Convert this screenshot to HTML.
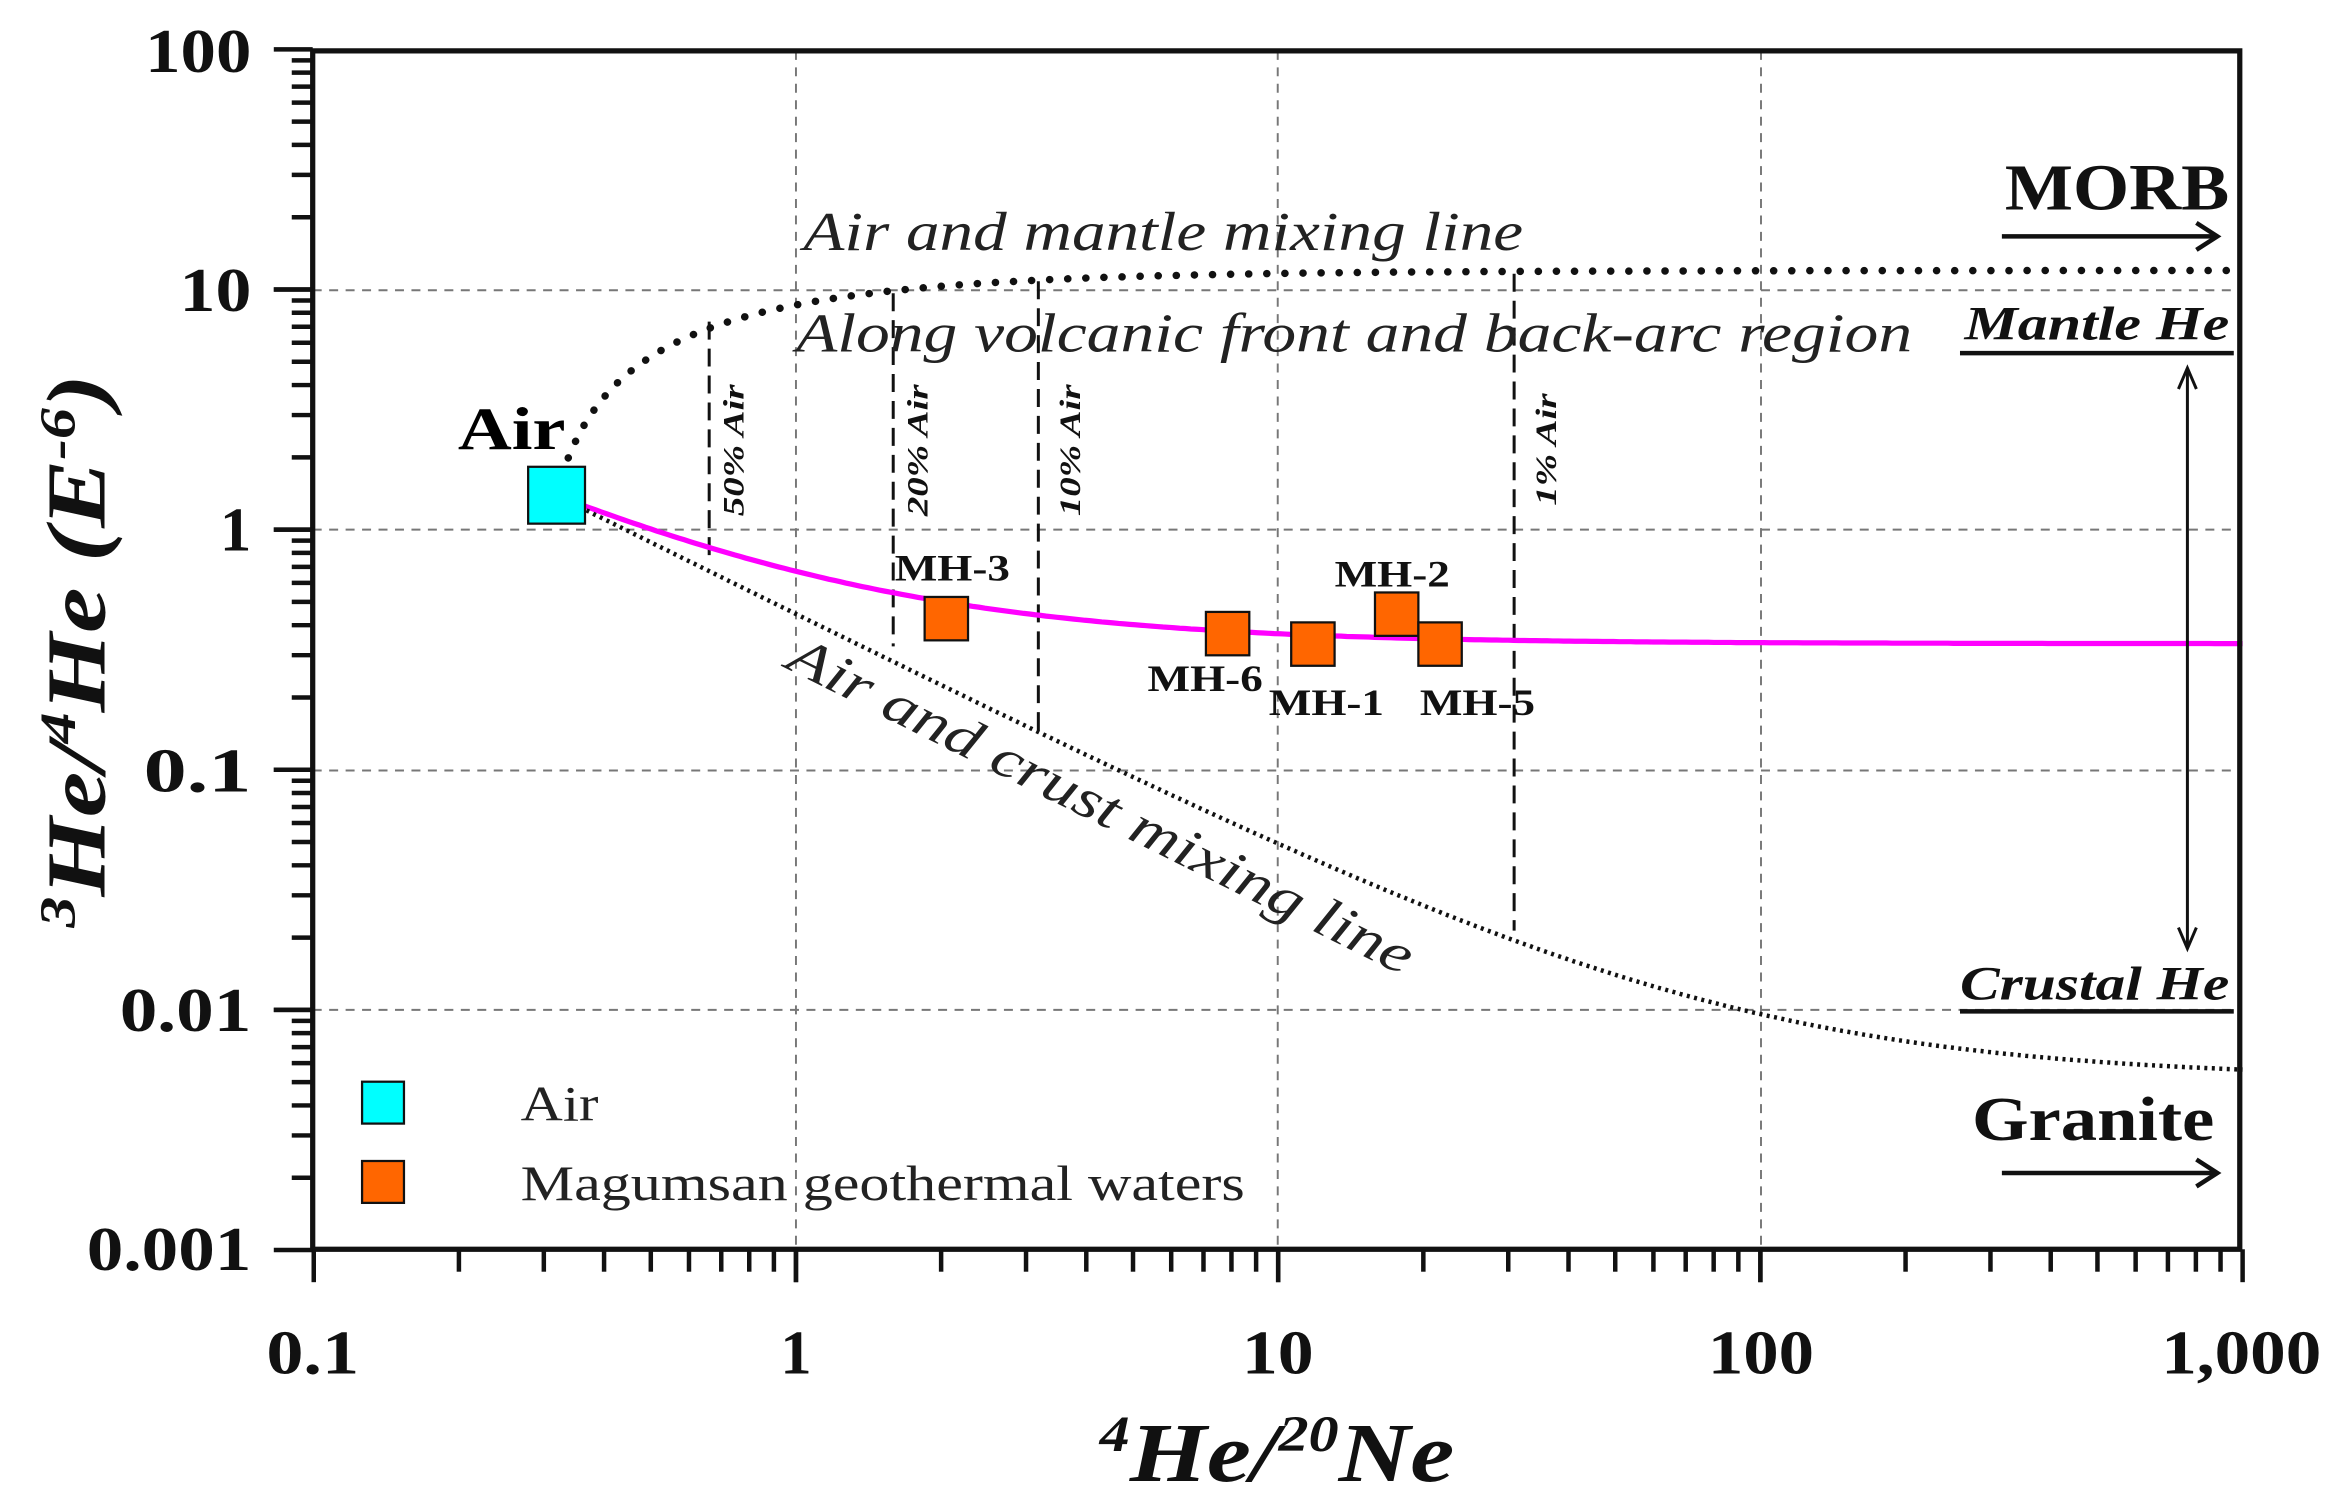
<!DOCTYPE html>
<html><head><meta charset="utf-8"><style>html,body{margin:0;padding:0;background:#fff}svg{display:block}</style></head>
<body>
<svg id="s" width="2346" height="1506" viewBox="0 0 1568 1006.6" preserveAspectRatio="none" xmlns="http://www.w3.org/2000/svg" font-family="'Liberation Serif', serif">
<g stroke="#777" stroke-width="1.3" stroke-dasharray="6,5" fill="none">
<line x1="209" y1="194" x2="1497" y2="194"/><line x1="209" y1="354" x2="1497" y2="354"/><line x1="209" y1="515" x2="1497" y2="515"/><line x1="209" y1="675" x2="1497" y2="675"/>
<line x1="532" y1="34" x2="532" y2="835"/><line x1="854" y1="34" x2="854" y2="835"/><line x1="1177" y1="34" x2="1177" y2="835"/>
</g>
<g stroke="#111" stroke-width="2" stroke-dasharray="12,6" fill="none">
<line x1="474" y1="215" x2="474" y2="372"/><line x1="597" y1="196" x2="597" y2="432"/><line x1="694" y1="188" x2="694" y2="492"/><line x1="1012" y1="183" x2="1012" y2="622"/>
</g>
<g font-style="italic" font-weight="bold" font-size="20" fill="#111">
<text transform="translate(497,345) rotate(-90)" textLength="88" lengthAdjust="spacingAndGlyphs">50% Air</text>
<text transform="translate(620,345) rotate(-90)" textLength="88" lengthAdjust="spacingAndGlyphs">20% Air</text>
<text transform="translate(722,345) rotate(-90)" textLength="88" lengthAdjust="spacingAndGlyphs">10% Air</text>
<text transform="translate(1040,338) rotate(-90)" textLength="75" lengthAdjust="spacingAndGlyphs">1% Air</text>
</g>
<path id="mag" fill="none" stroke="#ff00ff" stroke-width="3.5" d=""/>
<path id="crust" fill="none" stroke="#111" stroke-width="3" stroke-dasharray="2,3" d=""/>
<path id="mantle" fill="none" stroke="#111" stroke-width="5" stroke-linecap="round" stroke-dasharray="0.1,12" d=""/>
<rect x="353" y="312" width="38" height="38" fill="#00ffff" stroke="#111" stroke-width="1.5"/>
<g fill="#ff6600" stroke="#111" stroke-width="1.5">
<rect x="618" y="399" width="29" height="29"/><rect x="806" y="409" width="29" height="29"/><rect x="863" y="416" width="29" height="29"/><rect x="919" y="396" width="29" height="29"/><rect x="948" y="416" width="29" height="29"/>
<rect x="242" y="776" width="28" height="28"/>
</g>
<rect x="242" y="723" width="28" height="28" fill="#00ffff" stroke="#111" stroke-width="1.5"/>
<g font-weight="bold" font-size="25" fill="#111" lengthAdjust="spacingAndGlyphs">
<text x="598" y="388" textLength="77" lengthAdjust="spacingAndGlyphs">MH-3</text><text x="767" y="462" textLength="77" lengthAdjust="spacingAndGlyphs">MH-6</text><text x="848" y="478" textLength="77" lengthAdjust="spacingAndGlyphs">MH-1</text><text x="892" y="392" textLength="77" lengthAdjust="spacingAndGlyphs">MH-2</text><text x="949" y="478" textLength="77" lengthAdjust="spacingAndGlyphs">MH-5</text>
</g>
<text x="306" y="300" font-weight="bold" font-size="40" textLength="72" lengthAdjust="spacingAndGlyphs">Air</text>
<g font-style="italic" font-size="37" fill="#222">
<text x="537" y="167" textLength="481" lengthAdjust="spacingAndGlyphs">Air and mantle mixing line</text>
<text x="532" y="235" textLength="746" lengthAdjust="spacingAndGlyphs">Along volcanic front and back-arc region</text>
<text transform="translate(524,446) rotate(26.5)" textLength="462" lengthAdjust="spacingAndGlyphs">Air and crust mixing line</text>
</g>
<g font-size="33" fill="#222"><text x="348" y="749" textLength="52" lengthAdjust="spacingAndGlyphs">Air</text><text x="348" y="802" textLength="484" lengthAdjust="spacingAndGlyphs">Magumsan geothermal waters</text></g>
<g fill="#111">
<text x="1340" y="140" font-weight="bold" font-size="44" textLength="150" lengthAdjust="spacingAndGlyphs">MORB</text>
<text x="1313" y="227" font-weight="bold" font-style="italic" font-size="32" textLength="177" lengthAdjust="spacingAndGlyphs">Mantle He</text>
<text x="1310" y="668" font-weight="bold" font-style="italic" font-size="32" textLength="180" lengthAdjust="spacingAndGlyphs">Crustal He</text>
<text x="1318" y="762" font-weight="bold" font-size="42" textLength="162" lengthAdjust="spacingAndGlyphs">Granite</text>
</g>
<g stroke="#111" stroke-width="3" fill="none">
<line x1="1338" y1="158" x2="1480" y2="158"/><path d="M1468,149 L1482,158 L1468,167"/>
<line x1="1338" y1="784" x2="1480" y2="784"/><path d="M1468,775 L1482,784 L1468,793"/>
<line x1="1310" y1="236" x2="1493" y2="236"/><line x1="1310" y1="676" x2="1493" y2="676"/>
<line x1="1462" y1="248" x2="1462" y2="632" stroke-width="2"/><path d="M1456,260 L1462,246 L1468,260 M1456,620 L1462,634 L1468,620" stroke-width="2"/>
</g>
<rect x="209" y="34" width="1288" height="801" fill="none" stroke="#111" stroke-width="3.5"/>
<g id="ticks" stroke="#111" stroke-width="3"></g>
<g font-weight="bold" font-size="42" fill="#111" text-anchor="end">
<text x="168" y="48" textLength="71" lengthAdjust="spacingAndGlyphs">100</text><text x="168" y="208" textLength="48" lengthAdjust="spacingAndGlyphs">10</text><text x="168" y="368">1</text><text x="168" y="529" textLength="72" lengthAdjust="spacingAndGlyphs">0.1</text><text x="168" y="689" textLength="88" lengthAdjust="spacingAndGlyphs">0.01</text><text x="168" y="849" textLength="110" lengthAdjust="spacingAndGlyphs">0.001</text>
</g>
<g font-weight="bold" font-size="42" fill="#111" text-anchor="middle">
<text x="209" y="918" textLength="62" lengthAdjust="spacingAndGlyphs">0.1</text><text x="532" y="918">1</text><text x="854" y="918" textLength="48" lengthAdjust="spacingAndGlyphs">10</text><text x="1177" y="918" textLength="71" lengthAdjust="spacingAndGlyphs">100</text><text x="1498" y="918" textLength="107" lengthAdjust="spacingAndGlyphs">1,000</text>
</g>
<text x="735" y="990" font-weight="bold" font-style="italic" font-size="56" fill="#111" textLength="237" lengthAdjust="spacingAndGlyphs"><tspan font-size="34" dy="-20">4</tspan><tspan dy="20">He/</tspan><tspan font-size="34" dy="-20">20</tspan><tspan dy="20">Ne</tspan></text>
<text transform="translate(70,620) rotate(-90)" font-weight="bold" font-style="italic" font-size="56" fill="#111" textLength="370" lengthAdjust="spacingAndGlyphs"><tspan font-size="34" dy="-20">3</tspan><tspan dy="20">He/</tspan><tspan font-size="34" dy="-20">4</tspan><tspan dy="20">He (E</tspan><tspan font-size="34" dy="-20">-6</tspan><tspan dy="20">)</tspan></text>
<script>
var X=function(v){return 532+322.3*Math.log10(v)},Y=function(v){return 354-160.5*Math.log10(v)};
function curve(id,rc,x0){var d='';for(var i=0;i<=300;i++){var x=x0*Math.pow(1000/x0,i/300);var r=rc+(1.39-rc)*0.318/x;d+=(i?'L':'M')+X(x).toFixed(1)+','+Y(r).toFixed(1);}document.getElementById(id).setAttribute('d',d);}
curve('mag',0.335,0.345);curve('crust',0.0052,0.345);curve('mantle',12,0.337);
var g=document.getElementById('ticks'),NS='http://www.w3.org/2000/svg';
function ln(a,b,c,d){var l=document.createElementNS(NS,'line');l.setAttribute('x1',a);l.setAttribute('y1',b);l.setAttribute('x2',c);l.setAttribute('y2',d);g.appendChild(l);}
for(var dcd=-1;dcd<3;dcd++)for(var k=1;k<=10;k++){var v=k*Math.pow(10,dcd);var x=X(v);var L=(k==1||k==10)?22:15;ln(x,835,x,835+L);}
for(var dcd=-3;dcd<2;dcd++)for(var k=1;k<=10;k++){var v=k*Math.pow(10,dcd);var y=Y(v);var L=(k==1||k==10)?26:14;ln(209-L,y,209,y);}
</script>
</svg>
</body></html>
